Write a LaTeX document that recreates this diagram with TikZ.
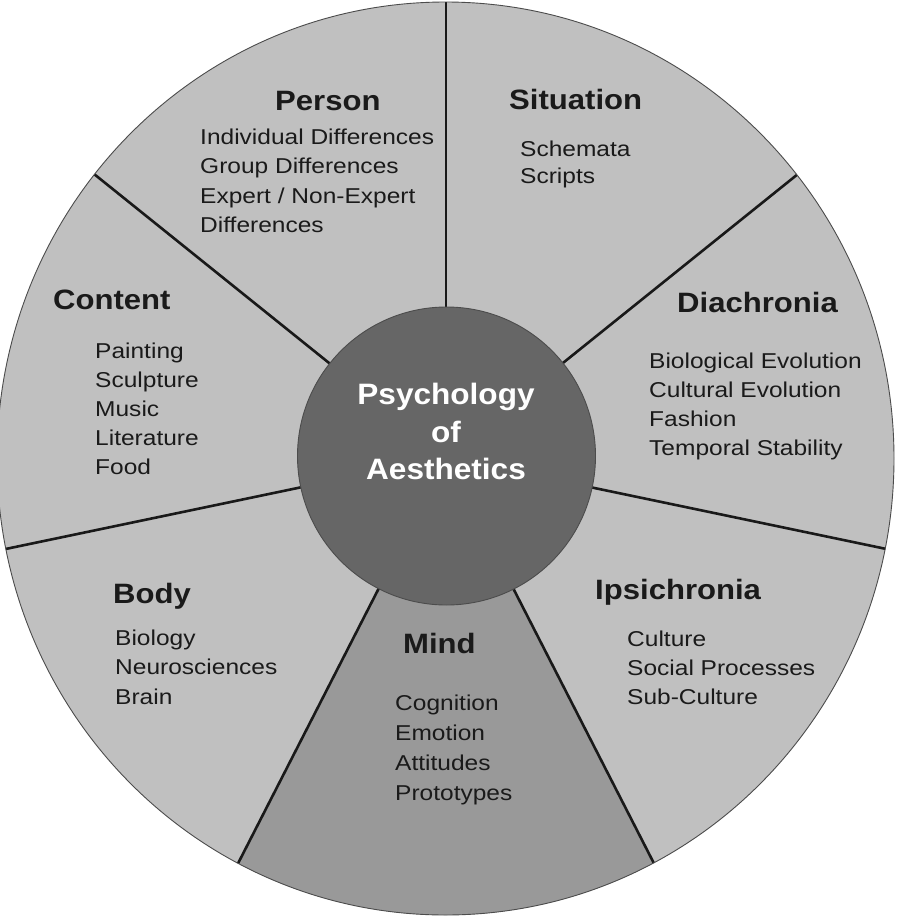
\documentclass[tikz,border=0pt]{standalone}
\usepackage{fontspec}
\setmainfont{Liberation Sans}
\newfontfamily\itmfont[FakeStretch=1.14]{Liberation Sans}
\newfontfamily\ttlfont[FakeStretch=1.11]{Liberation Sans}
\newfontfamily\ctrfont[FakeStretch=1.07]{Liberation Sans}
\definecolor{sector}{HTML}{C0C0C0}
\definecolor{mindsec}{HTML}{999999}
\definecolor{hubgray}{HTML}{666666}
\definecolor{ink}{HTML}{1A1A1A}
\begin{document}
\begin{tikzpicture}[x=1pt,y=-1pt,
  ttl/.style={anchor=base west,inner sep=0,text=ink,font=\ttlfont\bfseries\fontsize{28}{34}\selectfont},
  itm/.style={anchor=base west,inner sep=0,text=ink,font=\itmfont\fontsize{21.5}{29}\selectfont},
  ctr/.style={anchor=base,inner sep=0,text=white,font=\ctrfont\bfseries\fontsize{29.5}{37}\selectfont},
  spoke/.style={line width=2.6pt,draw=black!90},
  rim/.style={line width=0.9pt,draw=black!70}]
\useasboundingbox (0,0) rectangle (897,919);
\fill[white] (0,0) rectangle (897,919);
\coordinate (c) at (446,457);
\coordinate (oc) at (445.5,458.5);
% outer disc
\fill[sector] (oc) ellipse [x radius=448.5, y radius=456.5];
\begin{scope}
  \clip (oc) ellipse [x radius=448.5, y radius=456.5];
  \fill[mindsec] (c) -- +(62.9:800) -- +(117.1:800) -- cycle;
  \foreach \a in {-90,-38.8,11.8,62.9,117.1,168.2,218.8}
    \draw[spoke] (c) -- +(\a:800);
\end{scope}
\draw[rim] (oc) ellipse [x radius=448.5, y radius=456.5];
% hub
\node[circle,fill=hubgray,rim,minimum size=298pt,inner sep=0] (hub) at (446.5,456) {};
\node[ctr] (hub1) at (446,404) {Psychology};
\node[ctr] (hub2) at (446,442) {of};
\node[ctr] (hub3) at (446,479) {Aesthetics};
% titles
\node[ttl] (tperson) at (275,110) {Person};
\node[ttl] (tsituation) at (509,109) {Situation};
\node[ttl] (tdiachronia) at (677,312) {Diachronia};
\node[ttl] (tcontent) at (53,309) {Content};
\node[ttl] (tbody) at (113,603) {Body};
\node[ttl] (tmind) at (403,653) {Mind};
\node[ttl] (tipsi) at (595,599) {Ipsichronia};
% items
\foreach \t [count=\i from 0] in {Individual Differences,Group Differences,{Expert / Non-Expert},Differences}
  \node[itm] (person\i) at (200,144+29.5*\i) {\t};
\foreach \t [count=\i from 0] in {Schemata,Scripts}
  \node[itm] (situation\i) at (520,156+27.5*\i) {\t};
\foreach \t [count=\i from 0] in {Biological Evolution,Cultural Evolution,Fashion,Temporal Stability}
  \node[itm] (diachronia\i) at (649,368+29*\i) {\t};
\foreach \t [count=\i from 0] in {Painting,Sculpture,Music,Literature,Food}
  \node[itm] (content\i) at (95,358+29*\i) {\t};
\foreach \t [count=\i from 0] in {Biology,Neurosciences,Brain}
  \node[itm] (body\i) at (115,645+29.5*\i) {\t};
\foreach \t [count=\i from 0] in {Cognition,Emotion,Attitudes,Prototypes}
  \node[itm] (mind\i) at (395,710+30*\i) {\t};
\foreach \t [count=\i from 0] in {Culture,Social Processes,Sub-Culture}
  \node[itm] (ipsi\i) at (627,646+29*\i) {\t};
\end{tikzpicture}
\end{document}
